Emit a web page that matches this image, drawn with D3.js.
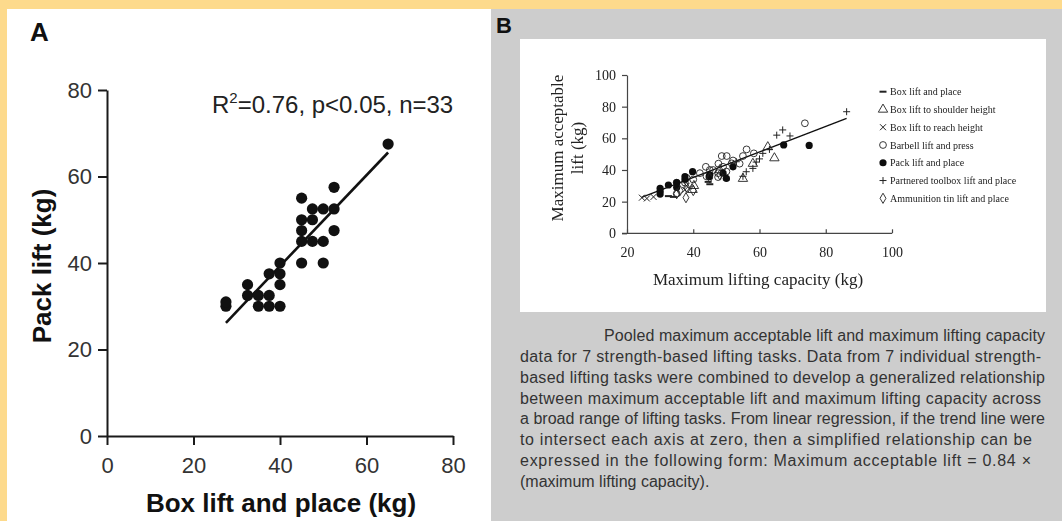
<!DOCTYPE html>
<html>
<head>
<meta charset="utf-8">
<script src="https://cdn.jsdelivr.net/npm/d3@7"></script>
<style>
  html, body { margin: 0; padding: 0; background: #fdda8c; }
  svg { display: block; }
</style>
</head>
<body>
<svg id="fig" width="1062" height="521"></svg>
<script>
// ---- Panel A: pack lift vs box lift and place ----
const boxLift = [27.5, 27.5, 32.5, 32.5, 35, 37.5, 35, 37.5, 40, 37.5, 40, 40, 40, 45, 50, 45, 45, 45, 45, 47.5, 47.5, 47.5, 50, 50, 52.5, 52.5, 52.5, 65];
const packLift = [30, 31, 35, 32.5, 32.5, 32.5, 30, 30, 30, 37.5, 37.5, 40, 35, 40, 40, 55, 50, 47.5, 45, 52.5, 50, 45, 52.5, 45, 52.5, 57.5, 47.5, 67.5];
const fitA = { slope: 1.05, intercept: -2.7, from: 27.5, to: 65 };
const ticksA = [0, 20, 40, 60, 80];
const statsA = { r2: "0.76", p: "p<0.05", n: "n=33" };

// ---- Panel B: pooled acceptable lift vs lifting capacity, 7 tasks ----
const taskNames = [
  "Box lift and place",
  "Box lift to shoulder height",
  "Box lift to reach height",
  "Barbell lift and press",
  "Pack lift and place",
  "Partnered toolbox lift and place",
  "Ammunition tin lift and place"
];
const boxPlaceB = [[32.5, 23.5], [34, 23], [45, 31], [50, 34], [44.5, 32.5]];
const boxShoulderB = [[39.8, 27.5], [40.2, 30], [48, 40], [55, 34.5], [58, 44], [62.5, 54.5], [64.5, 47.5]];
const boxReachB = [[24.5, 22.5], [26, 22], [28, 23], [30, 26], [37.5, 27.5], [38, 30]];
const barbellB = [[35, 25], [35, 32], [37.5, 32], [38, 35], [40, 34], [42, 38], [43.8, 42], [44, 36], [46, 40],
  [47.6, 44], [48.6, 48.8], [50.1, 48.8], [47.5, 38], [47.5, 35.5], [49, 42], [51.6, 44.2], [52, 46], [55, 48.8],
  [56.1, 53], [58.3, 50.5], [73.7, 69.5], [54, 44], [45, 40], [50, 39]];
const packB = [[30, 28.4], [30, 24.8], [30, 26.5], [32.5, 30.5], [35, 29], [35, 32], [37.5, 35.8], [37.5, 34],
  [39.8, 38.9], [44.8, 35.8], [45, 37], [50, 34.7], [49, 38], [52, 42], [67.3, 55.8], [75, 55.5]];
const partneredB = [[53, 45.2], [56, 38.9], [58, 41], [55, 36], [59, 45], [61, 50.5], [60, 47], [65.2, 62],
  [67, 65.3], [69.2, 61.5], [86.3, 76.8], [63, 53]];
const ammoB = [[37.8, 22.5], [35, 25], [40, 27], [38, 29], [45, 35], [48, 37], [36, 27]];
const fitB = { slope: 0.806, intercept: 3.0, from: 24.4, to: 86.3 };
const xTicksB = [20, 40, 60, 80, 100];
const yTicksB = [0, 20, 40, 60, 80, 100];
const captionLines = [
  "Pooled maximum acceptable lift and maximum lifting capacity",
  "data for 7 strength-based lifting tasks. Data from 7 individual strength-",
  "based lifting tasks were combined to develop a generalized relationship",
  "between maximum acceptable lift and maximum lifting capacity across",
  "a broad range of lifting tasks. From linear regression, if the trend line were",
  "to intersect each axis at zero, then a simplified relationship can be",
  "expressed in the following form: Maximum acceptable lift = 0.84 \u00d7",
  "(maximum lifting capacity)."
];
// right end of each set caption line (last line is left at its natural width)
const captionEnds = [1045, 1041, 1045, 1041, 1045, 1032, 1031, null];

const svg = d3.select("#fig");
const sans = "'Liberation Sans', Arial, Helvetica, sans-serif";
const serif = "'Liberation Serif', 'Times New Roman', serif";

// backgrounds
svg.append("rect").attr("x", 0).attr("y", 0).attr("width", 1062).attr("height", 521).attr("fill", "#fdda8c");
svg.append("rect").attr("x", 7).attr("y", 9).attr("width", 484).attr("height", 512).attr("fill", "#ffffff");
svg.append("rect").attr("x", 491).attr("y", 9).attr("width", 571).attr("height", 512).attr("fill", "#cdcdcd");
svg.append("rect").attr("x", 520).attr("y", 39).attr("width", 526).attr("height", 273).attr("fill", "#ffffff");

// ================= Panel A =================
const gA = svg.append("g");
const xA = d3.scaleLinear().domain([0, 80]).range([107, 453]);
const yA = d3.scaleLinear().domain([0, 80]).range([436, 90]);

gA.append("text").attr("x", 30).attr("y", 41).text("A")
  .attr("font-family", sans).attr("font-weight", "bold").attr("font-size", 26).attr("fill", "#111");

const axA = gA.append("g").attr("transform", `translate(0,${yA(0)})`)
  .call(d3.axisBottom(xA).tickValues(ticksA).tickSize(9).tickSizeOuter(0).tickPadding(12));
const ayA = gA.append("g").attr("transform", `translate(${xA(0)},0)`)
  .call(d3.axisLeft(yA).tickValues(ticksA).tickSize(9).tickSizeOuter(0).tickPadding(6));
[axA, ayA].forEach(a => {
  a.selectAll("path, line").attr("stroke", "#1a1a1a").attr("stroke-width", 2);
  a.selectAll("text").attr("font-family", sans).attr("font-size", 22).attr("fill", "#333");
});

gA.append("text").attr("x", 281).attr("y", 512).attr("text-anchor", "middle")
  .attr("font-family", sans).attr("font-weight", "bold").attr("font-size", 26).attr("fill", "#111")
  .text("Box lift and place (kg)");
gA.append("text").attr("transform", "translate(51,266) rotate(-90)").attr("text-anchor", "middle")
  .attr("font-family", sans).attr("font-weight", "bold").attr("font-size", 26).attr("fill", "#111")
  .text("Pack lift (kg)");

const statText = gA.append("text").attr("x", 212).attr("y", 113)
  .attr("font-family", sans).attr("font-size", 24).attr("fill", "#222");
statText.append("tspan").text("R");
statText.append("tspan").attr("dy", -10).attr("font-size", 15).text("2");
statText.append("tspan").attr("dy", 10).text(`=${statsA.r2}, ${statsA.p}, ${statsA.n}`);

gA.append("line")
  .attr("x1", xA(fitA.from)).attr("y1", yA(fitA.slope * fitA.from + fitA.intercept))
  .attr("x2", xA(fitA.to)).attr("y2", yA(fitA.slope * fitA.to + fitA.intercept))
  .attr("stroke", "#111").attr("stroke-width", 2.6);

gA.selectAll("circle.pt").data(boxLift.map((b, i) => [b, packLift[i]])).join("circle")
  .attr("class", "pt").attr("cx", d => xA(d[0])).attr("cy", d => yA(d[1])).attr("r", 5.6).attr("fill", "#111");

// ================= Panel B =================
svg.append("text").attr("x", 496).attr("y", 33).text("B")
  .attr("font-family", sans).attr("font-weight", "bold").attr("font-size", 22).attr("fill", "#111");

const defs = svg.append("defs");
defs.append("filter").attr("id", "soft").append("feGaussianBlur").attr("stdDeviation", 0.45);

const gB = svg.append("g").attr("filter", "url(#soft)");
const xB = d3.scaleLinear().domain([20, 100]).range([627, 892]);
const yB = d3.scaleLinear().domain([0, 100]).range([233.3, 75]);

const axB = gB.append("g").attr("transform", `translate(0,${yB(0)})`)
  .call(d3.axisBottom(xB).tickValues(xTicksB).tickSizeInner(-4).tickSizeOuter(0).tickPadding(14));
axB.select(".domain").attr("d", `M${xB(20) - 5},0H${xB(100)}`);
const ayB = gB.append("g").attr("transform", `translate(${xB(20)},0)`)
  .call(d3.axisLeft(yB).tickValues(yTicksB).tickSize(5).tickSizeOuter(0).tickPadding(6));
[axB, ayB].forEach(a => {
  a.selectAll("path, line").attr("stroke", "#444").attr("stroke-width", 1.2);
  a.selectAll("text").attr("font-family", serif).attr("font-size", 14).attr("fill", "#222");
});

gB.append("text").attr("x", 758).attr("y", 285).attr("text-anchor", "middle")
  .attr("font-family", serif).attr("font-size", 17).attr("fill", "#222")
  .text("Maximum lifting capacity (kg)");
gB.append("text").attr("transform", "translate(563,148) rotate(-90)").attr("text-anchor", "middle")
  .attr("font-family", serif).attr("font-size", 17).attr("fill", "#222")
  .text("Maximum acceptable");
gB.append("text").attr("transform", "translate(583,148) rotate(-90)").attr("text-anchor", "middle")
  .attr("font-family", serif).attr("font-size", 17).attr("fill", "#222")
  .text("lift (kg)");

// marker drawers per task
const ink = "#222";
const markers = [
  { data: boxPlaceB, draw: s => s.append("line").attr("x1", -3.5).attr("x2", 3.5).attr("stroke", ink).attr("stroke-width", 2) },
  { data: boxShoulderB, draw: s => s.append("path").attr("d", d3.symbol(d3.symbolTriangle, 38)()).attr("fill", "none").attr("stroke", ink).attr("stroke-width", 0.9) },
  { data: boxReachB, draw: s => s.append("path").attr("d", "M-3,-3L3,3M-3,3L3,-3").attr("stroke", ink).attr("stroke-width", 1) },
  { data: barbellB, draw: s => s.append("circle").attr("r", 3.4).attr("fill", "#fff").attr("fill-opacity", 0).attr("stroke", ink).attr("stroke-width", 0.9) },
  { data: packB, draw: s => s.append("circle").attr("r", 3.6).attr("fill", "#111") },
  { data: partneredB, draw: s => s.append("path").attr("d", "M-3.5,0H3.5M0,-3.5V3.5").attr("stroke", ink).attr("stroke-width", 1) },
  { data: ammoB, draw: s => s.append("path").attr("d", d3.symbol(d3.symbolDiamond, 30)()).attr("fill", "none").attr("stroke", ink).attr("stroke-width", 0.9) }
];

gB.append("line")
  .attr("x1", xB(fitB.from)).attr("y1", yB(fitB.slope * fitB.from + fitB.intercept))
  .attr("x2", xB(fitB.to)).attr("y2", yB(fitB.slope * fitB.to + fitB.intercept))
  .attr("stroke", "#111").attr("stroke-width", 1.4);

markers.forEach(m => {
  gB.append("g").selectAll("g").data(m.data).join("g")
    .attr("transform", d => `translate(${xB(d[0])},${yB(d[1])})`)
    .each(function () { m.draw(d3.select(this)); });
});

// legend
const legY = d3.scaleLinear().domain([0, 6]).range([91.7, 198.3]);
taskNames.forEach((name, i) => {
  const row = gB.append("g").attr("transform", `translate(883,${legY(i)})`);
  markers[i].draw(row);
  row.append("text").attr("x", 7).attr("y", 3.5)
    .attr("font-family", serif).attr("font-size", 10).attr("fill", "#222").text(name);
});

// caption
const capY = d3.scaleLinear().domain([0, 7]).range([341, 487]);
captionLines.forEach((line, i) => {
  const x0 = i === 0 ? 604 : 520;
  const t = svg.append("text").attr("x", x0).attr("y", capY(i))
    .attr("font-family", sans).attr("font-size", 16).attr("fill", "#333").text(line);
  if (captionEnds[i] !== null) {
    t.attr("textLength", captionEnds[i] - x0).attr("lengthAdjust", "spacing");
  }
});
</script>
</body>
</html>
